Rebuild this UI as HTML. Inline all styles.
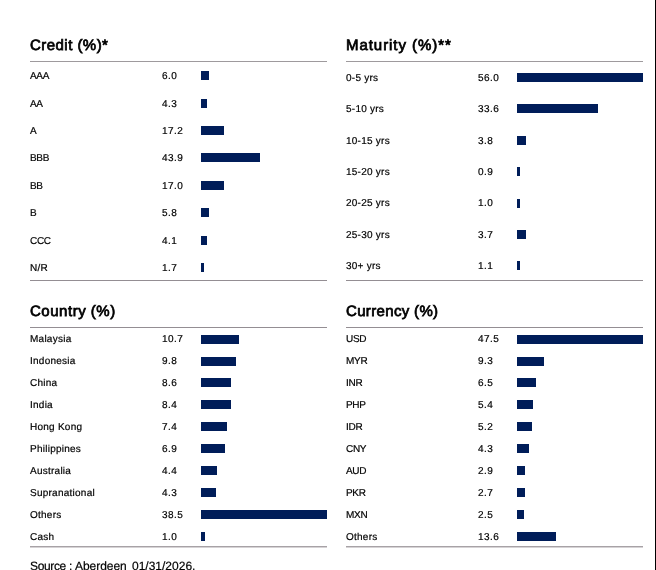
<!DOCTYPE html>
<html><head><meta charset="utf-8"><style>
html,body{margin:0;padding:0;background:#fff;}
.t,.l,.src{will-change:transform;}
.l,.src{-webkit-text-stroke:0.2px #000;}
body{width:656px;height:570px;position:relative;overflow:hidden;font-family:"Liberation Sans",sans-serif;text-rendering:geometricPrecision;}
.t{position:absolute;font-size:15px;font-weight:normal;-webkit-text-stroke:0.75px #000;color:#000;white-space:nowrap;line-height:17px;}
.l{position:absolute;font-size:10px;color:#000;white-space:nowrap;line-height:12px;}
.ln{position:absolute;height:1px;background:#9e9a9d;width:297px;}
.b{position:absolute;height:9px;background:#001d59;}
.vr{position:absolute;left:655px;top:0;width:1px;height:570px;background:#000;}
.src{position:absolute;font-size:12px;color:#000;white-space:pre;line-height:14px;}
</style></head><body>
<div class="t" style="left:30.2px;top:36.7px;letter-spacing:0.46px">Credit (%)*</div>
<div class="ln" style="left:30px;top:61px;background:#9e9a9d"></div>
<div class="ln" style="left:30px;top:280px;background:#948e93"></div>
<div class="l" style="left:30px;top:70.5px;letter-spacing:-0.30px">AAA</div><div class="l" style="left:162.0px;top:70.5px;letter-spacing:0.45px">6.0</div><div class="b" style="left:201px;top:71px;width:8px"></div>
<div class="l" style="left:30px;top:98.5px;letter-spacing:-0.30px">AA</div><div class="l" style="left:162.0px;top:98.5px;letter-spacing:0.45px">4.3</div><div class="b" style="left:201px;top:99px;width:6px"></div>
<div class="l" style="left:30px;top:125.5px;letter-spacing:-0.30px">A</div><div class="l" style="left:162.0px;top:125.5px;letter-spacing:0.45px">17.2</div><div class="b" style="left:201px;top:126px;width:23px"></div>
<div class="l" style="left:30px;top:152.5px;letter-spacing:-0.30px">BBB</div><div class="l" style="left:162.0px;top:152.5px;letter-spacing:0.45px">43.9</div><div class="b" style="left:201px;top:153px;width:59px"></div>
<div class="l" style="left:30px;top:180.5px;letter-spacing:-0.30px">BB</div><div class="l" style="left:162.0px;top:180.5px;letter-spacing:0.45px">17.0</div><div class="b" style="left:201px;top:181px;width:23px"></div>
<div class="l" style="left:30px;top:207.5px;letter-spacing:-0.30px">B</div><div class="l" style="left:162.0px;top:207.5px;letter-spacing:0.45px">5.8</div><div class="b" style="left:201px;top:208px;width:8px"></div>
<div class="l" style="left:30px;top:235.5px;letter-spacing:-0.30px">CCC</div><div class="l" style="left:162.0px;top:235.5px;letter-spacing:0.45px">4.1</div><div class="b" style="left:201px;top:236px;width:6px"></div>
<div class="l" style="left:30px;top:262.5px;letter-spacing:0.25px">N/R</div><div class="l" style="left:162.0px;top:262.5px;letter-spacing:0.45px">1.7</div><div class="b" style="left:201px;top:263px;width:3px"></div>
<div class="t" style="left:346.2px;top:36.7px;letter-spacing:0.95px">Maturity (%)**</div>
<div class="ln" style="left:346px;top:61px;background:#9e9a9d"></div>
<div class="ln" style="left:346px;top:280px;background:#948e93"></div>
<div class="l" style="left:346px;top:72.5px;letter-spacing:0.25px">0-5 yrs</div><div class="l" style="left:478.0px;top:72.5px;letter-spacing:0.45px">56.0</div><div class="b" style="left:517px;top:73px;width:126px"></div>
<div class="l" style="left:346px;top:103.5px;letter-spacing:0.25px">5-10 yrs</div><div class="l" style="left:478.0px;top:103.5px;letter-spacing:0.45px">33.6</div><div class="b" style="left:517px;top:104px;width:81px"></div>
<div class="l" style="left:346px;top:135.5px;letter-spacing:0.25px">10-15 yrs</div><div class="l" style="left:478.0px;top:135.5px;letter-spacing:0.45px">3.8</div><div class="b" style="left:517px;top:136px;width:9px"></div>
<div class="l" style="left:346px;top:166.5px;letter-spacing:0.25px">15-20 yrs</div><div class="l" style="left:478.0px;top:166.5px;letter-spacing:0.45px">0.9</div><div class="b" style="left:517px;top:167px;width:3px"></div>
<div class="l" style="left:346px;top:197.5px;letter-spacing:0.25px">20-25 yrs</div><div class="l" style="left:478.0px;top:197.5px;letter-spacing:0.45px">1.0</div><div class="b" style="left:517px;top:199px;width:3px"></div>
<div class="l" style="left:346px;top:229.5px;letter-spacing:0.25px">25-30 yrs</div><div class="l" style="left:478.0px;top:229.5px;letter-spacing:0.45px">3.7</div><div class="b" style="left:517px;top:230px;width:9px"></div>
<div class="l" style="left:346px;top:260.5px;letter-spacing:0.25px">30+ yrs</div><div class="l" style="left:478.0px;top:260.5px;letter-spacing:0.45px">1.1</div><div class="b" style="left:517px;top:261px;width:3px"></div>
<div class="t" style="left:30.2px;top:302.6px;letter-spacing:0.52px">Country (%)</div>
<div class="ln" style="left:30px;top:327px;background:#948e93"></div>
<div class="ln" style="left:30px;top:546px;background:#a7a2a6;box-shadow:0 1px 0 #d6d3d5"></div>
<div class="l" style="left:30px;top:333.5px;letter-spacing:0.25px">Malaysia</div><div class="l" style="left:162.0px;top:333.5px;letter-spacing:0.45px">10.7</div><div class="b" style="left:201px;top:335px;width:38px"></div>
<div class="l" style="left:30px;top:355.5px;letter-spacing:0.25px">Indonesia</div><div class="l" style="left:162.0px;top:355.5px;letter-spacing:0.45px">9.8</div><div class="b" style="left:201px;top:357px;width:35px"></div>
<div class="l" style="left:30px;top:377.5px;letter-spacing:0.25px">China</div><div class="l" style="left:162.0px;top:377.5px;letter-spacing:0.45px">8.6</div><div class="b" style="left:201px;top:378px;width:30px"></div>
<div class="l" style="left:30px;top:399.5px;letter-spacing:0.25px">India</div><div class="l" style="left:162.0px;top:399.5px;letter-spacing:0.45px">8.4</div><div class="b" style="left:201px;top:400px;width:30px"></div>
<div class="l" style="left:30px;top:421.5px;letter-spacing:0.25px">Hong Kong</div><div class="l" style="left:162.0px;top:421.5px;letter-spacing:0.45px">7.4</div><div class="b" style="left:201px;top:422px;width:26px"></div>
<div class="l" style="left:30px;top:443.5px;letter-spacing:0.25px">Philippines</div><div class="l" style="left:162.0px;top:443.5px;letter-spacing:0.45px">6.9</div><div class="b" style="left:201px;top:444px;width:24px"></div>
<div class="l" style="left:30px;top:465.5px;letter-spacing:0.25px">Australia</div><div class="l" style="left:162.0px;top:465.5px;letter-spacing:0.45px">4.4</div><div class="b" style="left:201px;top:466px;width:16px"></div>
<div class="l" style="left:30px;top:487.5px;letter-spacing:0.25px">Supranational</div><div class="l" style="left:162.0px;top:487.5px;letter-spacing:0.45px">4.3</div><div class="b" style="left:201px;top:488px;width:15px"></div>
<div class="l" style="left:30px;top:509.5px;letter-spacing:0.25px">Others</div><div class="l" style="left:162.0px;top:509.5px;letter-spacing:0.45px">38.5</div><div class="b" style="left:201px;top:510px;width:126px"></div>
<div class="l" style="left:30px;top:531.5px;letter-spacing:0.25px">Cash</div><div class="l" style="left:162.0px;top:531.5px;letter-spacing:0.45px">1.0</div><div class="b" style="left:201px;top:532px;width:4px"></div>
<div class="t" style="left:346.2px;top:302.6px;letter-spacing:0.34px">Currency (%)</div>
<div class="ln" style="left:346px;top:327px;background:#948e93"></div>
<div class="ln" style="left:346px;top:546px;background:#a7a2a6;box-shadow:0 1px 0 #d6d3d5"></div>
<div class="l" style="left:346px;top:333.5px;letter-spacing:-0.30px">USD</div><div class="l" style="left:478.0px;top:333.5px;letter-spacing:0.45px">47.5</div><div class="b" style="left:517px;top:335px;width:126px"></div>
<div class="l" style="left:346px;top:355.5px;letter-spacing:-0.30px">MYR</div><div class="l" style="left:478.0px;top:355.5px;letter-spacing:0.45px">9.3</div><div class="b" style="left:517px;top:357px;width:27px"></div>
<div class="l" style="left:346px;top:377.5px;letter-spacing:-0.30px">INR</div><div class="l" style="left:478.0px;top:377.5px;letter-spacing:0.45px">6.5</div><div class="b" style="left:517px;top:378px;width:19px"></div>
<div class="l" style="left:346px;top:399.5px;letter-spacing:-0.30px">PHP</div><div class="l" style="left:478.0px;top:399.5px;letter-spacing:0.45px">5.4</div><div class="b" style="left:517px;top:400px;width:16px"></div>
<div class="l" style="left:346px;top:421.5px;letter-spacing:-0.30px">IDR</div><div class="l" style="left:478.0px;top:421.5px;letter-spacing:0.45px">5.2</div><div class="b" style="left:517px;top:422px;width:15px"></div>
<div class="l" style="left:346px;top:443.5px;letter-spacing:-0.30px">CNY</div><div class="l" style="left:478.0px;top:443.5px;letter-spacing:0.45px">4.3</div><div class="b" style="left:517px;top:444px;width:12px"></div>
<div class="l" style="left:346px;top:465.5px;letter-spacing:-0.30px">AUD</div><div class="l" style="left:478.0px;top:465.5px;letter-spacing:0.45px">2.9</div><div class="b" style="left:517px;top:466px;width:8px"></div>
<div class="l" style="left:346px;top:487.5px;letter-spacing:-0.30px">PKR</div><div class="l" style="left:478.0px;top:487.5px;letter-spacing:0.45px">2.7</div><div class="b" style="left:517px;top:488px;width:8px"></div>
<div class="l" style="left:346px;top:509.5px;letter-spacing:-0.30px">MXN</div><div class="l" style="left:478.0px;top:509.5px;letter-spacing:0.45px">2.5</div><div class="b" style="left:517px;top:510px;width:7px"></div>
<div class="l" style="left:346px;top:531.5px;letter-spacing:0.25px">Others</div><div class="l" style="left:478.0px;top:531.5px;letter-spacing:0.45px">13.6</div><div class="b" style="left:517px;top:532px;width:39px"></div>
<div class="src" style="top:559px;left:30px;letter-spacing:-0.35px">Source</div><div class="src" style="top:559px;left:69.3px">:</div><div class="src" style="top:559px;left:75.1px;letter-spacing:-0.05px">Aberdeen</div><div class="src" style="top:559px;left:131.5px;letter-spacing:0px">01/31/2026.</div>
<div class="vr"></div>
</body></html>
